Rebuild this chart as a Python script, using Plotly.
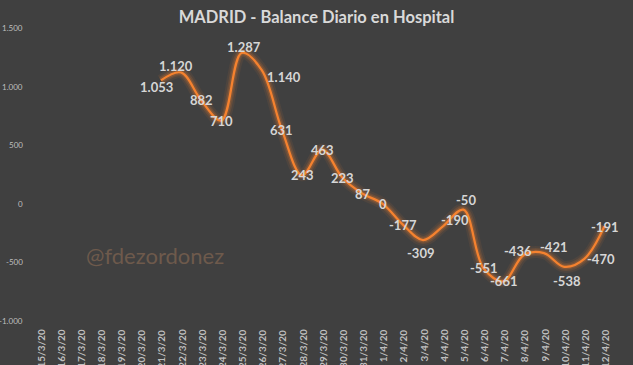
import plotly.graph_objects as go

dates = ["15/3/20","16/3/20","17/3/20","18/3/20","19/3/20","20/3/20","21/3/20","22/3/20",
         "23/3/20","24/3/20","25/3/20","26/3/20","27/3/20","28/3/20","29/3/20","30/3/20",
         "31/3/20","1/4/20","2/4/20","3/4/20","4/4/20","5/4/20","6/4/20","7/4/20","8/4/20",
         "9/4/20","10/4/20","11/4/20","12/4/20"]
balance = [None, None, None, None, None, None,
           1053, 1120, 882, 710, 1287, 1140, 631, 243, 463, 223, 87,
           0, -177, -309, -190, -50, -551, -661, -436, -421, -538, -470, -191]
# label offsets in pixels (dx right, dy up) for the points that have values
label_dx = [-4, -5, 0, 0, 2, 22, 0, 0, 0, 0, 0, 0, 0, -3, 12, 3, 0, 0, -6, 9, 3, 17, 0]
label_dy = [-7, 7, 0, 0, 6, -7, 0, 0, 0, 0, 0, 0, 0, -13, 6, 10, 0, 0, 4, 6, -14, 0, -1]
y_ticks = [-1000, -500, 0, 500, 1000, 1500]
y_tick_labels = ["-1.000", "-500", "0", "500", "1.000", "1.500"]

def fmt(v):
    s = f"{abs(v):,}".replace(",", ".")
    return ("-" if v < 0 else "") + s

ORANGE = "#F5822F"
fig = go.Figure()
for w, a in [(12, 0.08), (8, 0.14), (5, 0.22)]:
    fig.add_trace(go.Scatter(x=dates, y=balance, mode="lines",
                             line=dict(color=f"rgba(240,125,46,{a})", width=w, shape="spline", smoothing=1.0),
                             hoverinfo="skip", showlegend=False))
fig.add_trace(go.Scatter(
    x=dates, y=balance, mode="lines",
    line=dict(color=ORANGE, width=2.25, shape="spline", smoothing=1.0),
    showlegend=False))

annotations = []
points = [(d, v) for d, v in zip(dates, balance) if v is not None]
for (d, v), dx, dy in zip(points, label_dx, label_dy):
    annotations.append(dict(x=d, y=v, xref="x", yref="y", text=f"<b>{fmt(v)}</b>",
                            showarrow=False, xanchor="center", yanchor="middle",
                            xshift=dx, yshift=dy,
                            font=dict(family="Lato", size=13, color="#D6D6D6")))
# category labels, rotated, top-aligned under the plot
for d in dates:
    annotations.append(dict(x=d, y=0, xref="x", yref="paper", text=f"<b>{d}</b>",
                            textangle=-90, showarrow=False, xanchor="center", yanchor="top",
                            yshift=-6, font=dict(family="Lato", size=10, color="#BFBFBF")))
# value axis labels
for v, t in zip(y_ticks, y_tick_labels):
    annotations.append(dict(x=0, y=v, xref="paper", yref="y", text=t, showarrow=False,
                            xanchor="right", yanchor="middle", xshift=-7,
                            font=dict(family="Lato", size=8, color="#BFBFBF")))
annotations.append(dict(text="@fdezordonez", xref="paper", yref="paper",
                        x=0.209, y=0.225, xanchor="center", yanchor="middle", showarrow=False,
                        font=dict(family="Lato", size=22, color="#6E5A4C")))

fig.update_layout(
    width=633, height=365,
    paper_bgcolor="#404040", plot_bgcolor="#404040",
    margin=dict(l=32, r=13, t=28, b=44),
    title=dict(text="<b>MADRID - Balance Diario en Hospital</b>", x=0.5, xanchor="center",
               y=0.953, yanchor="middle", automargin=False,
               font=dict(family="Lato", size=16.5, color="#D9D9D9")),
    xaxis=dict(type="category", categoryorder="array", categoryarray=dates, automargin=False,
               showticklabels=False, showgrid=False, zeroline=False, showline=False, ticks=""),
    yaxis=dict(range=[-1000, 1500], automargin=False, showticklabels=False,
               showgrid=False, zeroline=False, showline=False, ticks=""),
    annotations=annotations,
)

fig.write_html("out.html", config={"displayModeBar": False},
               post_script="document.body.style.margin='0';document.body.style.background='#404040';")
